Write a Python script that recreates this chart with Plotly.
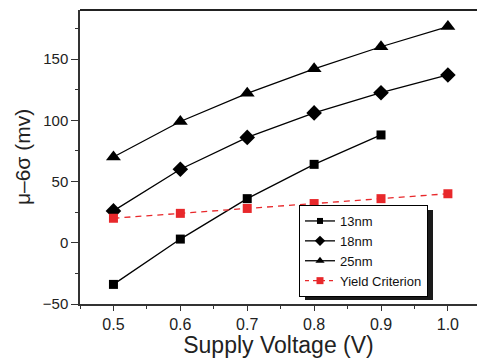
import plotly.graph_objects as go

voltage = [0.5, 0.6, 0.7, 0.8, 0.9, 1.0]
nm13 = [-34, 3, 36, 64, 88]
nm18 = [26, 60, 86, 106, 122.5, 137]
nm25 = [70, 99, 122, 142, 160, 176.5]
yield_crit = [20, 24, 28, 32, 36, 40]
xtick_labels = ["0.5", "0.6", "0.7", "0.8", "0.9", "1.0"]
ytick_vals = [-50, 0, 50, 100, 150]

W, H = 477, 358
L, R, T, B = 80, 0, 10, 54
RED = "#e8282b"

series = [
    ("13nm", voltage[:5], nm13, "black", "solid", "square", 9, 6),
    ("18nm", voltage, nm18, "black", "solid", "diamond", 12, 8),
    ("25nm", voltage, nm25, "black", "solid", "triangle-up", 13, 8),
    ("Yield Criterion", voltage, yield_crit, RED, "6px,5px", "square", 9, 7),
]

fig = go.Figure()
for name, xs, ys, col, dash, sym, size, lsize in series:
    fig.add_trace(go.Scatter(x=xs, y=ys, name=name, mode="lines+markers", showlegend=False,
                             line=dict(color=col, width=1.3, dash=dash),
                             marker=dict(symbol=sym, size=size, color=col)))
for name, xs, ys, col, dash, sym, size, lsize in series:
    fig.add_trace(go.Scatter(x=[None], y=[None], name=name, mode="lines+markers",
                             line=dict(color=col, width=1.3, dash="4px,4px" if dash != "solid" else "solid"),
                             marker=dict(symbol=sym, size=lsize, color=col)))

ph = H - T - B
pw = W - L - R
lx, ly = 299, 205
lw, lh = 128, 90
fig.add_shape(type="rect", xref="paper", yref="paper",
              x0=(lx + 6 - L) / pw, x1=(lx + lw + 6 - L) / pw,
              y0=(H - B - (ly + lh + 5)) / ph, y1=(H - B - ly - 5) / ph,
              fillcolor="#1a1a1a", line=dict(width=0), layer="above")
fig.add_shape(type="line", xref="paper", yref="paper", x0=0, x1=1, y0=1, y1=1,
              line=dict(color="#222", width=2), layer="above")

fig.update_layout(
    width=W, height=H,
    margin=dict(l=L, r=R, t=T, b=B),
    plot_bgcolor="white", paper_bgcolor="white",
    font=dict(family="Liberation Sans, Arial", color="#222"),
    showlegend=True,
    legend=dict(x=(lx - L) / pw, y=(H - B - ly) / ph, xanchor="left", yanchor="top",
                bgcolor="white", bordercolor="black", borderwidth=1,
                font=dict(size=13, color="#111"), tracegroupgap=0,
                itemwidth=30),
    xaxis=dict(range=[0.45, 1.0435], tickvals=voltage, ticktext=xtick_labels,
               showgrid=False, zeroline=False, showline=True, linecolor="#333", linewidth=1.5,
               ticks="outside", ticklen=5, tickwidth=1.2, tickcolor="#333",
               tickfont=dict(size=16),
               minor=dict(dtick=0.05, tick0=0.45, ticks="outside", ticklen=3, tickcolor="#333", tickwidth=1),
               title=dict(text="Supply Voltage (V)", font=dict(size=23), standoff=0)),
    yaxis=dict(range=[-50, 190], tickvals=ytick_vals,
               showgrid=False, zeroline=False, showline=True, linecolor="#333", linewidth=1.5,
               ticks="outside", ticklen=7, tickwidth=1.2, tickcolor="#333",
               tickfont=dict(size=15),
               minor=dict(dtick=25, tick0=-50, ticks="outside", ticklen=3, tickcolor="#333", tickwidth=1),
               title=dict(text="μ–6σ (mv)", font=dict(size=21), standoff=6)),
)

fig.write_html("out.html", config={"displayModeBar": False},
               post_script="document.body.style.margin='0';document.body.style.overflow='hidden';")
